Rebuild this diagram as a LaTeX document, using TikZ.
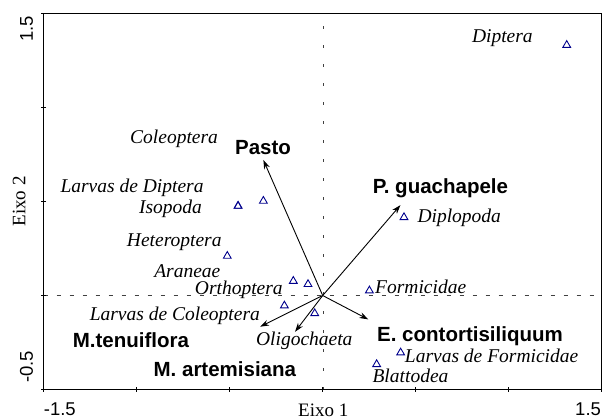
\documentclass[tikz,border=0pt]{standalone}
\usepackage{fontspec}
\setmainfont{Liberation Serif}
\setsansfont{Liberation Sans}
\usetikzlibrary{arrows.meta,shapes.geometric}
\definecolor{navy}{RGB}{0,0,140}

\begin{document}
\begin{tikzpicture}[x=186pt,y=188pt,>={Stealth[length=9pt,width=6pt]}]
        \tikzstyle{species}=[regular polygon,regular polygon sides=3,draw=navy,line width=0.9pt,minimum size=9pt,inner sep=0pt]
        \tikzstyle{taxon}=[font=\fontsize{19.5}{22}\selectfont\itshape,inner sep=0pt]
        \tikzstyle{factor}=[font=\fontsize{20.5}{24}\selectfont\sffamily\bfseries,inner sep=0pt]
        \tikzstyle{ticklabel}=[font=\fontsize{18.5}{22}\selectfont\sffamily,inner sep=0pt]
        \tikzstyle{axislabel}=[font=\fontsize{19}{22}\selectfont,inner sep=0pt]
        \tikzstyle{vector}=[->,line width=0.9pt]

        \useasboundingbox (-1.735,-0.662) rectangle (1.507,1.572);

        % frame, ticks and zero lines
        \draw[black!75,dash pattern=on 4pt off 9pt] (-1.5,0) -- (1.5,0);
        \draw[black!75,dash pattern=on 3pt off 16pt] (0,-0.5) -- (0,1.5);
        \draw[line width=1pt] (-1.5,-0.5) rectangle (1.5,1.5);
        \foreach \x in {-1.5,-1,...,1.5}
            \draw[line width=0.8pt] (\x,-0.5) ++(0,2.5pt) -- ++(0,-5pt);
        \foreach \y in {-0.5,0,...,1.5}
            \draw[line width=0.8pt] (-1.5,\y) ++(2.5pt,0) -- ++(-5pt,0);

        \node[ticklabel,rotate=90] (y15) at (-1.592,1.418) {1.5};
        \node[ticklabel,rotate=90] (ym05) at (-1.592,-0.380) {-0.5};
        \node[ticklabel,anchor=west] (xm15) at (-1.5,-0.606) {-1.5};
        \node[ticklabel,anchor=east] (x15) at (1.497,-0.606) {1.5};
        \node[axislabel] (eixo1) at (0.003,-0.610) {Eixo 1};
        \node[axislabel,rotate=90] (eixo2) at (-1.632,0.500) {Eixo 2};

        % species scores
        \node[species] (dipt) at (1.312,1.332) {};
        \node[species] (dipl) at (0.437,0.416) {};
        \node[species] (form) at (0.251,0.026) {};
        \node[species] (lform) at (0.419,-0.304) {};
        \node[species] (blat) at (0.290,-0.366) {};
        \node[species] (aran) at (-0.158,0.077) {};
        \node[species] (orth) at (-0.079,0.060) {};
        \node[species] (lcol) at (-0.206,-0.054) {};
        \node[species] (olig) at (-0.043,-0.095) {};
        \node[species] (hete) at (-0.513,0.210) {};
        \node[species] (isop) at (-0.455,0.476) {};
        \node[species] (ldip) at (-0.455,0.476) {};
        \node[species] (cole) at (-0.319,0.503) {};

        \node[taxon] (tdipt) at (0.966,1.368) {Diptera};
        \node[taxon] (tdipl) at (0.734,0.415) {Diplopoda};
        \node[taxon] (tform) at (0.527,0.045) {Formicidae};
        \node[taxon] (tlform) at (0.908,-0.323) {Larvas de Formicidae};
        \node[taxon] (tblat) at (0.472,-0.427) {Blattodea};
        \node[taxon] (tcole) at (-0.799,0.833) {Coleoptera};
        \node[taxon] (tldip) at (-1.025,0.572) {Larvas de Diptera};
        \node[taxon] (tisop) at (-0.818,0.460) {Isopoda};
        \node[taxon] (thete) at (-0.798,0.282) {Heteroptera};
        \node[taxon] (taran) at (-0.728,0.132) {Araneae};
        \node[taxon] (torth) at (-0.451,0.032) {Orthoptera};
        \node[taxon] (tlcol) at (-0.795,-0.106) {Larvas de Coleoptera};
        \node[taxon] (tolig) at (-0.099,-0.241) {Oligochaeta};

        % environmental vectors
        \coordinate (o) at (0,0);
        \coordinate (pasto) at (-0.319,0.721);
        \coordinate (pguach) at (0.418,0.481);
        \coordinate (econt) at (0.245,-0.127);
        \coordinate (mtenu) at (-0.337,-0.166);
        \coordinate (marte) at (-0.149,-0.193);
        \draw[vector] (o) -- (pasto);
        \draw[vector] (o) -- (pguach);
        \draw[vector] (o) -- (econt);
        \draw[vector] (o) -- (mtenu);
        \draw[vector] (o) -- (marte);

        \node[factor] (fpasto) at (-0.321,0.786) {Pasto};
        \node[factor] (fpguach) at (0.633,0.570) {P. guachapele};
        \node[factor] (fecont) at (0.792,-0.214) {E. contortisiliquum};
        \node[factor] (fmtenu) at (-1.031,-0.237) {M.tenuiflora};
        \node[factor] (fmarte) at (-0.526,-0.392) {M. artemisiana};
    \end{tikzpicture}
\end{document}
